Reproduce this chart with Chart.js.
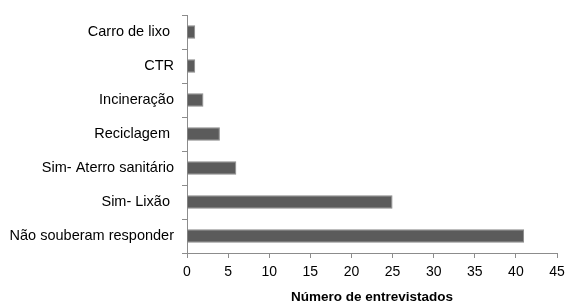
<!DOCTYPE html>
<html><head><meta charset="utf-8">
<script src="https://cdn.jsdelivr.net/npm/chart.js@4/dist/chart.umd.min.js"></script>
<style>html,body{margin:0;padding:0;background:#fff}#wrap{width:568px;height:305px}</style>
</head><body><div id="wrap"><canvas id="c" width="568" height="305"></canvas></div>
<script>
const categories = ["Carro de lixo ", "CTR", "Incineração", "Reciclagem ", "Sim- Aterro sanitário", "Sim- Lixão ", "Não souberam responder"];
const values = [1, 1, 2, 4, 6, 25, 41];
const xTicks = [0, 5, 10, 15, 20, 25, 30, 35, 40, 45];
const xTitle = "Número de entrevistados";

const FONT = "'Liberation Sans', Arial, sans-serif";
new Chart(document.getElementById('c'), {
  type: 'bar',
  data: { labels: categories, datasets: [{ data: values, backgroundColor: '#5b5b5b', borderColor: '#8a8a8a', borderWidth: 1, barPercentage: 0.4, categoryPercentage: 1 }] },
  options: {
    indexAxis: 'y', responsive: false, animation: false,
    layout: { padding: { left: 0, right: 11, top: 15, bottom: 0 } },
    plugins: { legend: { display: false }, tooltip: { enabled: false } },
    scales: {
      x: {
        min: 0, max: 45,
        afterBuildTicks: s => { s.ticks = xTicks.map(v => ({ value: v })); },
        afterFit: s => { s.height = 52; s.paddingRight = 0; s.paddingLeft = 0; },
        border: { color: '#8c8c8c', width: 1 },
        grid: { drawOnChartArea: false, drawTicks: true, tickLength: 5, color: '#8c8c8c' },
        ticks: { color: '#000', font: { family: FONT, size: 14 }, padding: 6, maxRotation: 0, minRotation: 0 },
        title: { display: true, text: xTitle, color: '#000', font: { family: FONT, size: 13.5, weight: 'bold' }, padding: { top: 2, bottom: 0 } }
      },
      y: {
        afterFit: s => { s.width = 187; s.paddingTop = 0; s.paddingBottom = 0; },
        border: { color: '#8c8c8c', width: 1 },
        grid: { drawOnChartArea: false, drawTicks: true, tickLength: 5, color: '#8c8c8c', offset: true },
        ticks: { color: '#000', font: { family: FONT, size: 14.5 }, padding: 8 }
      }
    }
  }
});
</script></body></html>
